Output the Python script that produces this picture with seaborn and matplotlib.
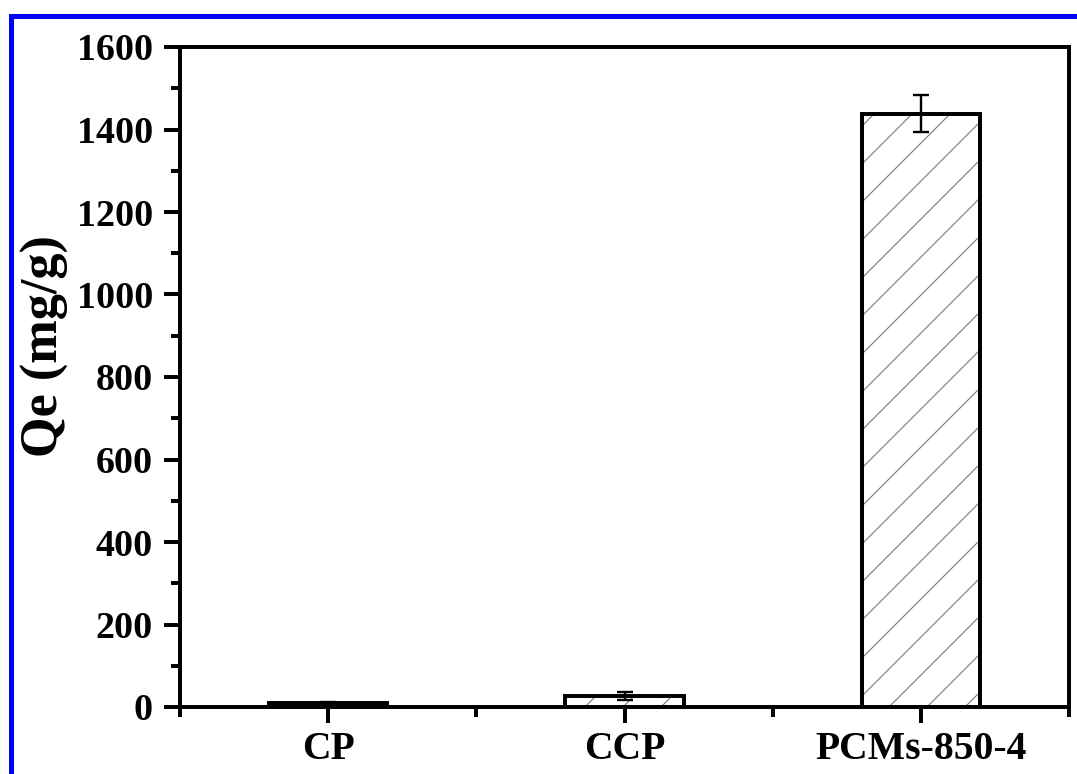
import matplotlib
matplotlib.use("Agg")
from matplotlib import pyplot as plt
from matplotlib.patches import Rectangle
import seaborn as sns

# datos
categorias = ["CP", "CCP", "PCMs-850-4"]
qe = [10, 26, 1438]
error = [2, 10, 45]

sns.set_style("ticks")
plt.rcParams["font.family"] = ["Liberation Serif", "DejaVu Serif"]
plt.rcParams["font.weight"] = "bold"
plt.rcParams["text.color"] = "black"
plt.rcParams["axes.labelcolor"] = "black"
plt.rcParams["xtick.color"] = "black"
plt.rcParams["ytick.color"] = "black"
plt.rcParams["xtick.labelcolor"] = "black"
plt.rcParams["ytick.labelcolor"] = "black"
plt.rcParams["hatch.linewidth"] = 0.7

DPI = 114
fig = plt.figure(figsize=(1077 / DPI, 774 / DPI), dpi=DPI)
ax = fig.add_axes([180 / 1077, 67 / 774, 889 / 1077, 660 / 774])

sns.barplot(x=categorias, y=qe, color="white", saturation=1, edgecolor="#777777",
            linewidth=0, hatch="/", width=0.4, errorbar=None, ax=ax)

# contorno negro de cada barra (el hatch queda gris)
for p in list(ax.patches):
    ax.add_patch(Rectangle(p.get_xy(), p.get_width(), p.get_height(), fill=False,
                           edgecolor="black", linewidth=2.5, zorder=3))

ax.errorbar(range(len(categorias)), qe, yerr=error, fmt="none", ecolor="black",
            elinewidth=1.5, capsize=5, capthick=1.5, zorder=4)

ax.set_xlim(-0.5, 2.5)
ax.set_ylim(0, 1600)
ax.set_yticks(range(0, 1601, 200))
ax.set_yticks(range(100, 1600, 200), minor=True)
ax.set_xticks([-0.5, 0.5, 1.5, 2.5], minor=True)

for s in ax.spines.values():
    s.set_visible(True)
    s.set_linewidth(2.5)
    s.set_color("black")

ax.tick_params(axis="both", which="major", direction="out", length=10, width=2.5,
               labelsize=24, color="black", labelcolor="black")
ax.tick_params(axis="both", which="minor", direction="out", length=6, width=2.5,
               color="black")
ax.tick_params(axis="y", which="major", pad=7)
ax.tick_params(axis="x", which="major", pad=5, labelsize=25)
for lab in ax.get_xticklabels() + ax.get_yticklabels():
    lab.set_fontweight("bold")

ax.set_ylabel("Qe (mg/g)", fontsize=33, fontweight="bold", va="center", color="black")
ax.yaxis.set_label_coords(-0.152, 0.547)
ax.set_xlabel("")

# marco azul (solo se ven los lados superior e izquierdo)
fig.add_artist(Rectangle((10.5 / 1077, -0.1), 1.2, (774 - 15.5) / 774 + 0.1,
                         transform=fig.transFigure, fill=False, edgecolor="blue",
                         linewidth=5 * 72 / DPI))

fig.savefig("out.png", dpi=DPI)
